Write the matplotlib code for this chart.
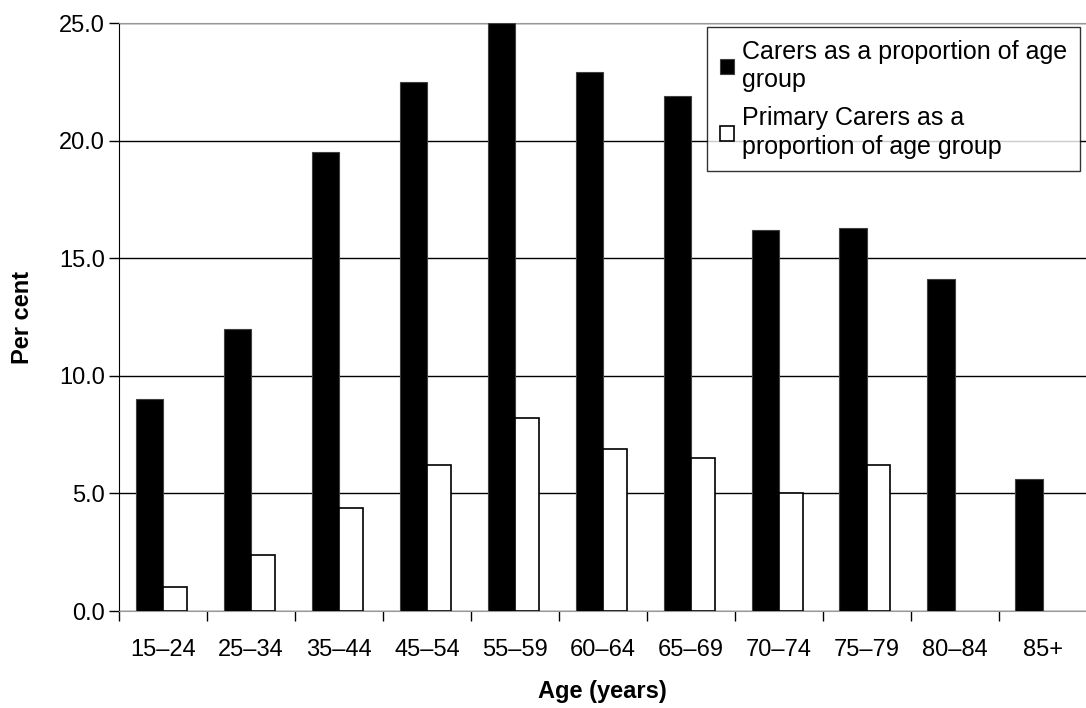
import matplotlib
matplotlib.use('Agg')
import matplotlib.pyplot as plt
import numpy as np

plt.rcParams['font.family'] = ['Liberation Sans', 'DejaVu Sans']

ages = ['15–24', '25–34', '35–44', '45–54', '55–59', '60–64',
        '65–69', '70–74', '75–79', '80–84', '85+']
carers = [9.0, 12.0, 19.5, 22.5, 25.0, 22.9, 21.9, 16.2, 16.3, 14.1, 5.6]
primary = [1.0, 2.4, 4.4, 6.2, 8.2, 6.9, 6.5, 5.0, 6.2, np.nan, np.nan]

fig = plt.figure(figsize=(10.86, 7.08), dpi=100)
ax = fig.add_axes([0.1096, 0.137, 0.891, 0.8305])

x = np.arange(len(ages))
w = 0.31
ax.bar(x - w / 2, carers, w, color='black', edgecolor='#404040', linewidth=0.8,
       label='Carers as a proportion of age\ngroup', zorder=3)
ax.bar(x + w / 2 - 0.02, primary, w - 0.04, color='white', edgecolor='black', linewidth=1.2,
       label='Primary Carers as a\nproportion of age group', zorder=3)

ax.set_xlim(-0.5, len(ages) - 0.5)
ax.set_ylim(0, 25)
ax.set_yticks(np.arange(0, 26, 5))
ax.set_yticklabels(['%.1f' % v for v in np.arange(0, 26, 5)], fontsize=17)
ax.yaxis.grid(True, color='black', linewidth=1)
ax.set_axisbelow(True)

ax.set_xticks(x)
ax.set_xticklabels(ages, fontsize=17)
ax.set_xticks(np.arange(-0.5, len(ages), 1), minor=True)
ax.tick_params(axis='x', which='major', length=0, pad=20)
ax.tick_params(axis='x', which='minor', length=7, width=1, direction='out')
ax.tick_params(axis='y', length=7, width=1, direction='out', pad=3)

ax.spines['right'].set_visible(False)
ax.spines['top'].set_color('#999999')
ax.spines['bottom'].set_color('#999999')
ax.spines['left'].set_color('black')

ax.set_xlabel('Age (years)', fontsize=17, fontweight='bold', labelpad=14)
ax.set_ylabel('Per cent', fontsize=17, fontweight='bold', labelpad=18)

leg = ax.legend(loc='upper right', bbox_to_anchor=(0.993, 0.993), fontsize=18,
                frameon=True, fancybox=False, edgecolor='black',
                handlelength=0.55, handleheight=0.55, handletextpad=0.35,
                borderpad=0.5, labelspacing=0.55, borderaxespad=0)
leg.get_frame().set_linewidth(1)
for t in leg.get_texts():
    t.set_linespacing(1.25)

fig.savefig('out.png', dpi=100)
